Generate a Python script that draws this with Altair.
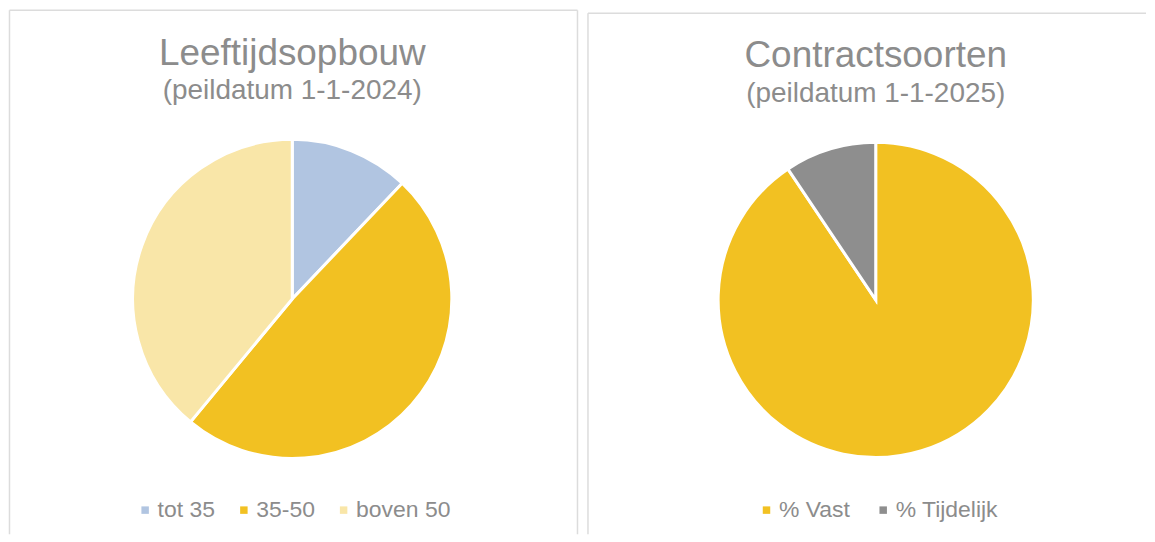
import altair as alt
import pandas as pd

# ---- data ----
age_labels = ["tot 35", "35-50", "boven 50"]
age_values = [12.1, 48.9, 39.0]
age_colors = ["#B1C5E1", "#F2C122", "#F9E6A8"]

contract_labels = ["% Vast", "% Tijdelijk"]
contract_values = [90.6, 9.4]
contract_colors = ["#F2C122", "#8E8E8E"]

titles = ["Leeftijdsopbouw", "Contractsoorten"]
subtitles = ["(peildatum 1-1-2024)", "(peildatum 1-1-2025)"]

GRAY = "#8C8C8C"
BORDER = "#DCDCDC"
FONT = "Liberation Sans"
H = 526


def panel(labels, values, colors, title, subtitle, width, cx, cy, r,
          legend_x, legend_y, title_y, sub_y, borders, col_pad):
    df = pd.DataFrame({"cat": labels, "val": values, "ord": list(range(len(labels)))})
    pie = alt.Chart(df).mark_arc(radius=r, stroke="white", strokeWidth=3).encode(
        theta=alt.Theta("val:Q", stack=True),
        order=alt.Order("ord:Q"),
        color=alt.Color(
            "cat:N",
            scale=alt.Scale(domain=labels, range=colors),
            legend=alt.Legend(
                orient="none", legendX=legend_x, legendY=legend_y,
                direction="horizontal", title=None, symbolType="square",
                symbolSize=56, symbolStrokeWidth=0, labelFontSize=23,
                labelColor=GRAY, labelFont=FONT, columnPadding=col_pad,
                labelOffset=1, padding=0,
            ),
        ),
        x=alt.value(cx), y=alt.value(cy),
    )
    tdf = pd.DataFrame({"t": [title]})
    sdf = pd.DataFrame({"t": [subtitle]})
    t1 = alt.Chart(tdf).mark_text(fontSize=37, font=FONT, color=GRAY, align="center",
                                  baseline="alphabetic").encode(
        text="t:N", x=alt.value(cx), y=alt.value(title_y))
    t2 = alt.Chart(sdf).mark_text(fontSize=28, font=FONT, color=GRAY, align="center",
                                  baseline="alphabetic").encode(
        text="t:N", x=alt.value(cx), y=alt.value(sub_y))
    layers = []
    bdf = pd.DataFrame({"a": [0]})
    for (x1, x2, y1, y2) in borders:
        layers.append(alt.Chart(bdf).mark_rule(color=BORDER, strokeWidth=1.5).encode(
            x=alt.value(x1), x2=alt.value(x2), y=alt.value(y1), y2=alt.value(y2)))
    layers += [pie, t1, t2]
    return alt.layer(*layers).properties(width=width, height=H)


left = panel(age_labels, age_values, age_colors, titles[0], subtitles[0],
             579, 284, 290, 160, 125, 490, 55, 90,
             [(0.5, 0.5, 0.5, H), (0.5, 570, 0.5, 0.5), (570, 570, 0.5, H)], 17)

right = panel(contract_labels, contract_values, contract_colors, titles[1], subtitles[1],
              560, 289, 291, 158, 168, 490, 57, 93,
              [(0.5, 0.5, 3.5, H), (0.5, 560, 3.5, 3.5)], 21)

chart = alt.hconcat(left, right, spacing=0).resolve_scale(color="independent") \
    .configure_view(stroke=None).properties(padding=0)

chart.save("out.html", embed_options={"renderer": "svg", "actions": False})
